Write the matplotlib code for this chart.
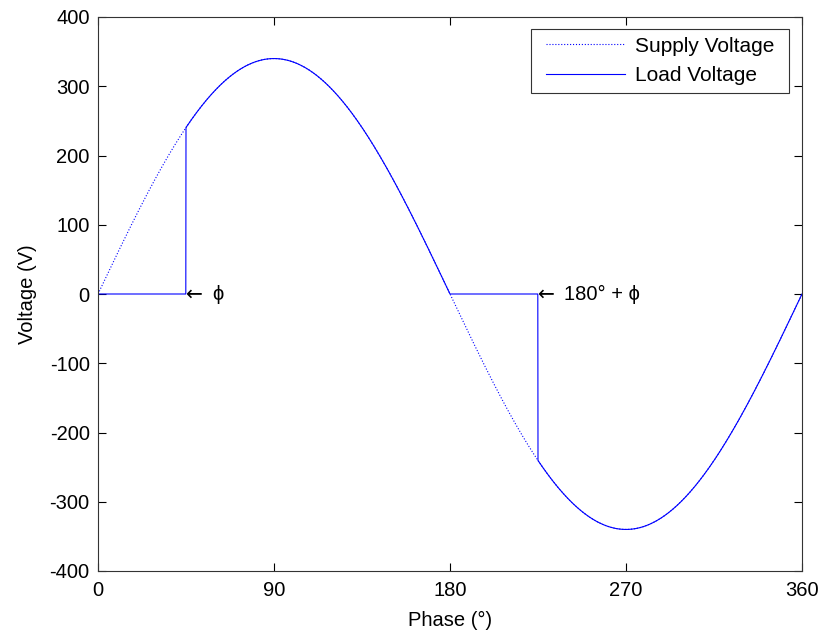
import numpy as np
import matplotlib
matplotlib.use("Agg")
import matplotlib.pyplot as plt
from matplotlib.path import Path

# Supply and phase-controlled load parameters
peak_voltage = 340.0          # V
firing_angle = 45.0           # degrees (phi)
x_ticks = [0, 90, 180, 270, 360]
y_ticks = [-400, -300, -200, -100, 0, 100, 200, 300, 400]

plt.rcParams['font.family'] = ['Liberation Sans', 'DejaVu Sans']
plt.rcParams['axes.unicode_minus'] = False
FS = 14.5

phase = np.linspace(0, 360, 3601)
supply = peak_voltage * np.sin(np.radians(phase))

# Load sees the supply only after the firing angle in each half cycle
half_pos = np.mod(phase, 180)
load = np.where(half_pos >= firing_angle, supply, 0.0)
load[-1] = supply[-1]

fig = plt.figure(figsize=(8.24, 6.36), dpi=100)
ax = fig.add_axes([98/824, 1 - 571/636, (802 - 98)/824, (571 - 17)/636])

ax.plot(phase, supply, color='blue', linestyle=':', linewidth=0.8, label='Supply Voltage')
ax.plot(phase, load, color='blue', linestyle='-', linewidth=0.8, label='Load Voltage')

ax.set_xlim(0, 360)
ax.set_ylim(-400, 400)
ax.set_xticks(x_ticks)
ax.set_yticks(y_ticks)
ax.tick_params(direction='in', length=6, width=0.8, top=True, right=True,
               colors='black', labelsize=FS)
ax.tick_params(axis='y', pad=6)
ax.tick_params(axis='x', pad=7)
for sp in ax.spines.values():
    sp.set_linewidth(0.8)
    sp.set_color('#333333')

ax.set_xlabel('Phase (\u00b0)', fontsize=FS, labelpad=8)
ax.set_ylabel('Voltage (V)', fontsize=FS, labelpad=9)

arrow_font = ['DejaVu Sans']
for x0, txt in [(firing_angle, '\u03d5'), (180 + firing_angle, '180\u00b0 + \u03d5')]:
    ax.annotate('\u2190', (x0, 0), xytext=(0, 0), textcoords='offset points',
                ha='left', va='center', fontsize=FS, family=arrow_font)
    ax.annotate(txt, (x0, 0), xytext=(19, 0), textcoords='offset points',
                ha='left', va='center', fontsize=FS)


# Legend frame with extra horizontal padding
EXTRA_X = 7.0


def wide_box(x0, y0, width, height, mutation_size):
    xa, xb = x0 - EXTRA_X, x0 + width + EXTRA_X
    ya, yb = y0, y0 + height
    return Path([(xa, ya), (xb, ya), (xb, yb), (xa, yb), (xa, ya)], closed=True)


leg = ax.legend(loc='upper right', fancybox=False, framealpha=1, edgecolor='#333333',
                fontsize=15, handlelength=3.8, handletextpad=0.48, borderpad=0.36,
                labelspacing=0.52, borderaxespad=0,
                bbox_to_anchor=((789 - EXTRA_X - 98) / 704, 1 - 12 / 554))
leg.get_frame().set_linewidth(0.8)
leg.get_frame().set_boxstyle(wide_box)

fig.savefig('out.png', dpi=100)
